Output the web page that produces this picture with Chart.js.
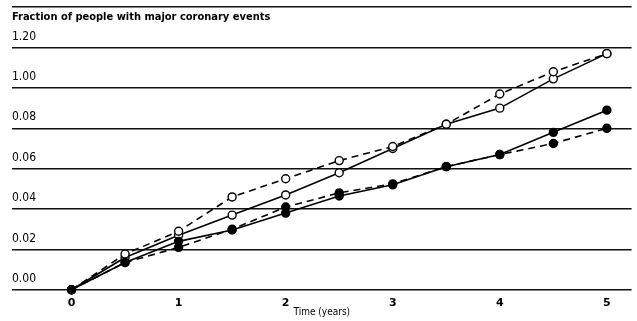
<!DOCTYPE html>
<html>
<head>
<meta charset="utf-8">
<script src="https://cdn.jsdelivr.net/npm/chart.js@4"></script>
<style>
  html, body { margin: 0; padding: 0; background: #fff; }
  #wrap { width: 637px; height: 321px; }
</style>
</head>
<body>
<div id="wrap"><canvas id="chart" width="637" height="321"></canvas></div>
<script>
const years = [0, 0.5, 1, 1.5, 2, 2.5, 3, 3.5, 4, 4.5, 5];
const openSolid = [0, 0.016, 0.027, 0.037, 0.047, 0.058, 0.070, 0.082, 0.090, 0.1045, 0.117];
const openDashed = [0, 0.0177, 0.029, 0.046, 0.055, 0.064, 0.071, 0.082, 0.097, 0.108, 0.117];
const filledSolid = [0, 0.0135, 0.024, 0.0296, 0.038, 0.0465, 0.052, 0.061, 0.067, 0.078, 0.089];
const filledDashed = [0, 0.0135, 0.021, 0.030, 0.041, 0.048, 0.0525, 0.061, 0.067, 0.0725, 0.080];

const yTickLabels = ["0.00", "0.02", "0.04", "0.06", "0.08", "1.00", "1.20", ""];
const xTicks = [0, 1, 2, 3, 4, 5];
const chartTitle = "Fraction of people with major coronary events";
const xTitle = "Time (years)";

function pts(vals) {
    return years.map((x, i) => ({ x: x, y: vals[i] }));
}

function series(label, vals, dashed, filled) {
    return {
        label: label,
        data: pts(vals),
        borderColor: "#000",
        borderWidth: 1.6,
        borderDash: dashed ? [7, 5] : [],
        pointRadius: 4,
        pointBorderWidth: 1.4,
        pointBorderColor: "#000",
        pointBackgroundColor: filled ? "#000" : "#fff",
        tension: 0
    };
}

const titlePlugin = {
    id: "topTitle",
    afterDraw(chart) {
        const c = chart.ctx;
        c.save();
        c.fillStyle = "#000";
        c.font = "bold 11px 'DejaVu Sans Condensed', 'DejaVu Sans'";
        c.textBaseline = "middle";
        c.textAlign = "left";
        c.fillText(chartTitle, 12, 17);
        c.restore();
    }
};

const ctx = document.getElementById("chart");

const chart1 = new Chart(ctx, {
    type: "line",
    data: {
        datasets: [
            series("filled dashed", filledDashed, true, true),
            series("filled solid", filledSolid, false, true),
            series("open dashed", openDashed, true, false),
            series("open solid", openSolid, false, false)
        ]
    },
    plugins: [titlePlugin],
    options: {
        responsive: false,
        animation: false,
        clip: false,
        layout: {
            padding: { left: 12, right: 0, top: 4, bottom: 3 }
        },
        plugins: {
            legend: { display: false },
            tooltip: { enabled: false }
        },
        scales: {
            x: {
                type: "linear",
                min: -0.556,
                max: 5.231,
                afterBuildTicks: (axis) => {
                    axis.ticks = xTicks.map(v => ({ value: v }));
                },
                grid: { display: false },
                border: { display: false },
                ticks: {
                    color: "#000",
                    padding: -1,
                    maxRotation: 0,
                    font: { family: "'DejaVu Sans'", size: 11, weight: "bold" },
                    callback: (v) => String(v)
                },
                title: {
                    display: true,
                    text: xTitle,
                    color: "#000",
                    padding: { top: -3, bottom: 0 },
                    font: { family: "'DejaVu Sans Condensed', 'DejaVu Sans'", size: 10 }
                }
            },
            y: {
                type: "linear",
                min: 0,
                max: 0.14,
                afterBuildTicks: (axis) => {
                    axis.ticks = yTickLabels.map((t, i) => ({ value: i * 0.02 }));
                },
                grid: {
                    color: "#111",
                    lineWidth: 1.6,
                    drawTicks: false
                },
                border: { display: false },
                ticks: {
                    mirror: true,
                    padding: 0,
                    labelOffset: -11,
                    color: "#000",
                    font: { family: "'DejaVu Sans Condensed', 'DejaVu Sans'", size: 12 },
                    callback: (v, i) => yTickLabels[i]
                }
            }
        }
    }
});
</script>
</body>
</html>
